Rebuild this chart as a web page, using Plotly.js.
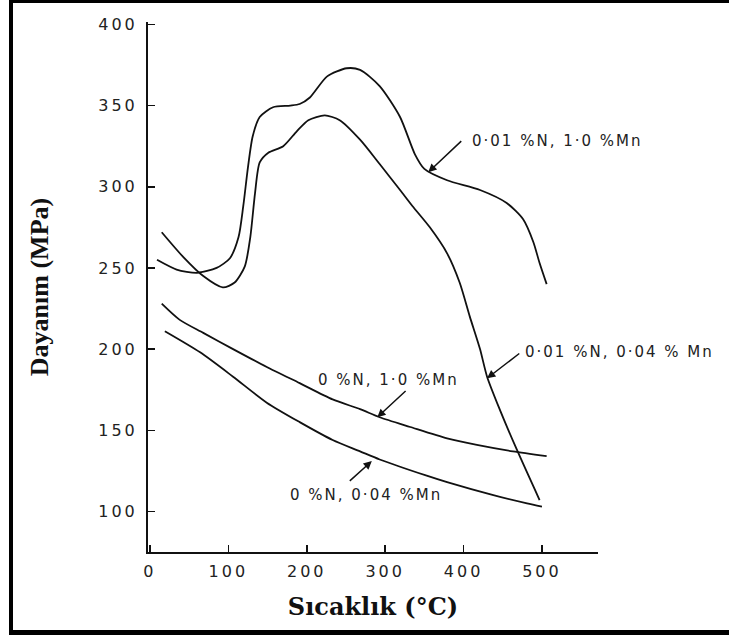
<!DOCTYPE html>
<html>
<head>
<meta charset="utf-8">
<script src="https://cdn.plot.ly/plotly-3.0.1.min.js"></script>
<style>
html,body{margin:0;padding:0;background:#fff;}
#chart{width:729px;height:635px;}
.annotation-text{letter-spacing:2px;}
.xtick text,.ytick text{letter-spacing:3px;}
</style>
</head>
<body>
<div id="chart"></div>
<script>
// Curve: 0·01 %N, 1·0 %Mn
const xA = [9, 34, 60, 85, 102, 113, 119, 125, 131, 140, 157, 179, 191, 204, 226, 251, 268, 293, 319, 338, 350, 379, 421, 455, 476, 489, 497, 506];
const yA = [255, 249, 247, 250, 256, 269, 288, 312, 331, 343, 349, 350, 351, 355, 368, 373, 372, 362, 343, 320, 311, 304, 298, 290, 280, 266, 253, 240];
// Curve: 0·01 %N, 0·04 %Mn
const xB = [15, 42, 68, 93, 108, 121, 128, 134, 140, 151, 170, 187, 202, 223, 242, 268, 293, 319, 335, 357, 379, 395, 408, 421, 430, 446, 468, 497];
const yB = [272, 257, 245, 238, 241, 251, 269, 296, 315, 321, 325, 334, 341, 344, 341, 329, 314, 298, 288, 275, 259, 241, 220, 200, 183, 163, 138, 107];
// Curve: 0 %N, 1·0 %Mn
const xC = [15, 38, 68, 106, 149, 191, 233, 268, 293, 332, 379, 417, 463, 506];
const yC = [228, 218, 210, 200, 189, 179, 169, 163, 158, 152, 145, 141, 137, 134];
// Curve: 0 %N, 0·04 %Mn
const xD = [19, 64, 106, 149, 191, 233, 268, 293, 353, 379, 438, 481, 500];
const yD = [211, 198, 183, 167, 155, 144, 137, 132, 122, 118, 110, 105, 103];

const labels = ["0·01 %N, 1·0 %Mn", "0·01 %N, 0·04 % Mn", "0 %N, 1·0 %Mn", "0 %N, 0·04 %Mn"];
// label anchor positions (data coords) and arrows: head and tail
const labelX = [408, 476, 304, 275];
const labelY = [328, 198, 181, 110];
const arrowHeadX = [355, 430, 290, 283];
const arrowHeadY = [309, 182, 158, 131];
const arrowTailX = [399, 473, 328, 253];
const arrowTailY = [329, 198, 175, 118];

const xTicks = [0, 100, 200, 300, 400, 500];
const yTicks = [100, 150, 200, 250, 300, 350, 400];

const lineStyle = {color: '#111', width: 1.8, shape: 'spline', smoothing: 0.7};
const traces = [[xA, yA], [xB, yB], [xC, yC], [xD, yD]].map(([x, y]) => ({
  x: x, y: y, type: 'scatter', mode: 'lines', line: lineStyle, hoverinfo: 'skip'
}));

const annFont = {family: 'DejaVu Sans', size: 15, color: '#222'};
const annotations = [];
for (let i = 0; i < labels.length; i++) {
  annotations.push({
    x: labelX[i], y: labelY[i], xref: 'x', yref: 'y', text: labels[i], showarrow: false,
    xanchor: i < 2 ? 'left' : 'center', yanchor: 'middle', font: annFont
  });
  annotations.push({
    x: arrowHeadX[i], y: arrowHeadY[i], ax: arrowTailX[i], ay: arrowTailY[i],
    xref: 'x', yref: 'y', axref: 'x', ayref: 'y', text: '', showarrow: true,
    arrowhead: 2, arrowsize: 1.1, arrowwidth: 1.5, arrowcolor: '#111', standoff: 0
  });
}

function px2paperX(p) { return (p - 148) / 450; }
function px2paperY(p) { return (552 - p) / 530; }
const shapes = [
  {type: 'line', xref: 'paper', yref: 'paper', x0: px2paperX(11), x1: px2paperX(11), y0: px2paperY(635), y1: px2paperY(0), line: {color: '#000', width: 4}},
  {type: 'line', xref: 'paper', yref: 'paper', x0: px2paperX(9), x1: px2paperX(729), y0: px2paperY(1.5), y1: px2paperY(1.5), line: {color: '#000', width: 3}},
  {type: 'line', xref: 'paper', yref: 'paper', x0: px2paperX(9), x1: px2paperX(729), y0: px2paperY(632.5), y1: px2paperY(632.5), line: {color: '#000', width: 5}}
];

const tickFont = {family: 'DejaVu Sans', size: 16, color: '#222'};
const layout = {
  width: 729, height: 635,
  margin: {l: 148, r: 131, t: 22, b: 83, pad: 0},
  paper_bgcolor: '#fff', plot_bgcolor: '#fff',
  showlegend: false,
  xaxis: {
    range: [-2.5, 571.5], tickvals: xTicks, ticktext: xTicks.map(String),
    ticks: 'inside', ticklen: 7, tickwidth: 1.5, tickcolor: '#111',
    showline: true, linecolor: '#111', linewidth: 2, showgrid: false, zeroline: false,
    tickfont: tickFont, ticklabelstandoff: 4,
    title: {text: 'Sıcaklık (°C)', font: {family: 'DejaVu Serif', size: 24, color: '#111', weight: 'bold'}, standoff: 18}
  },
  yaxis: {
    range: [75, 401.5], tickvals: yTicks, ticktext: yTicks.map(String),
    ticks: 'inside', ticklen: 7, tickwidth: 1.5, tickcolor: '#111',
    showline: true, linecolor: '#111', linewidth: 2, showgrid: false, zeroline: false,
    tickfont: tickFont, ticklabelstandoff: 5,
    title: {text: 'Dayanım (MPa)', font: {family: 'Liberation Serif', size: 26, color: '#111', weight: 'bold'}, standoff: 42}
  },
  annotations: annotations,
  shapes: shapes
};

Plotly.newPlot('chart', traces, layout, {displayModeBar: false, staticPlot: true});
</script>
</body>
</html>
